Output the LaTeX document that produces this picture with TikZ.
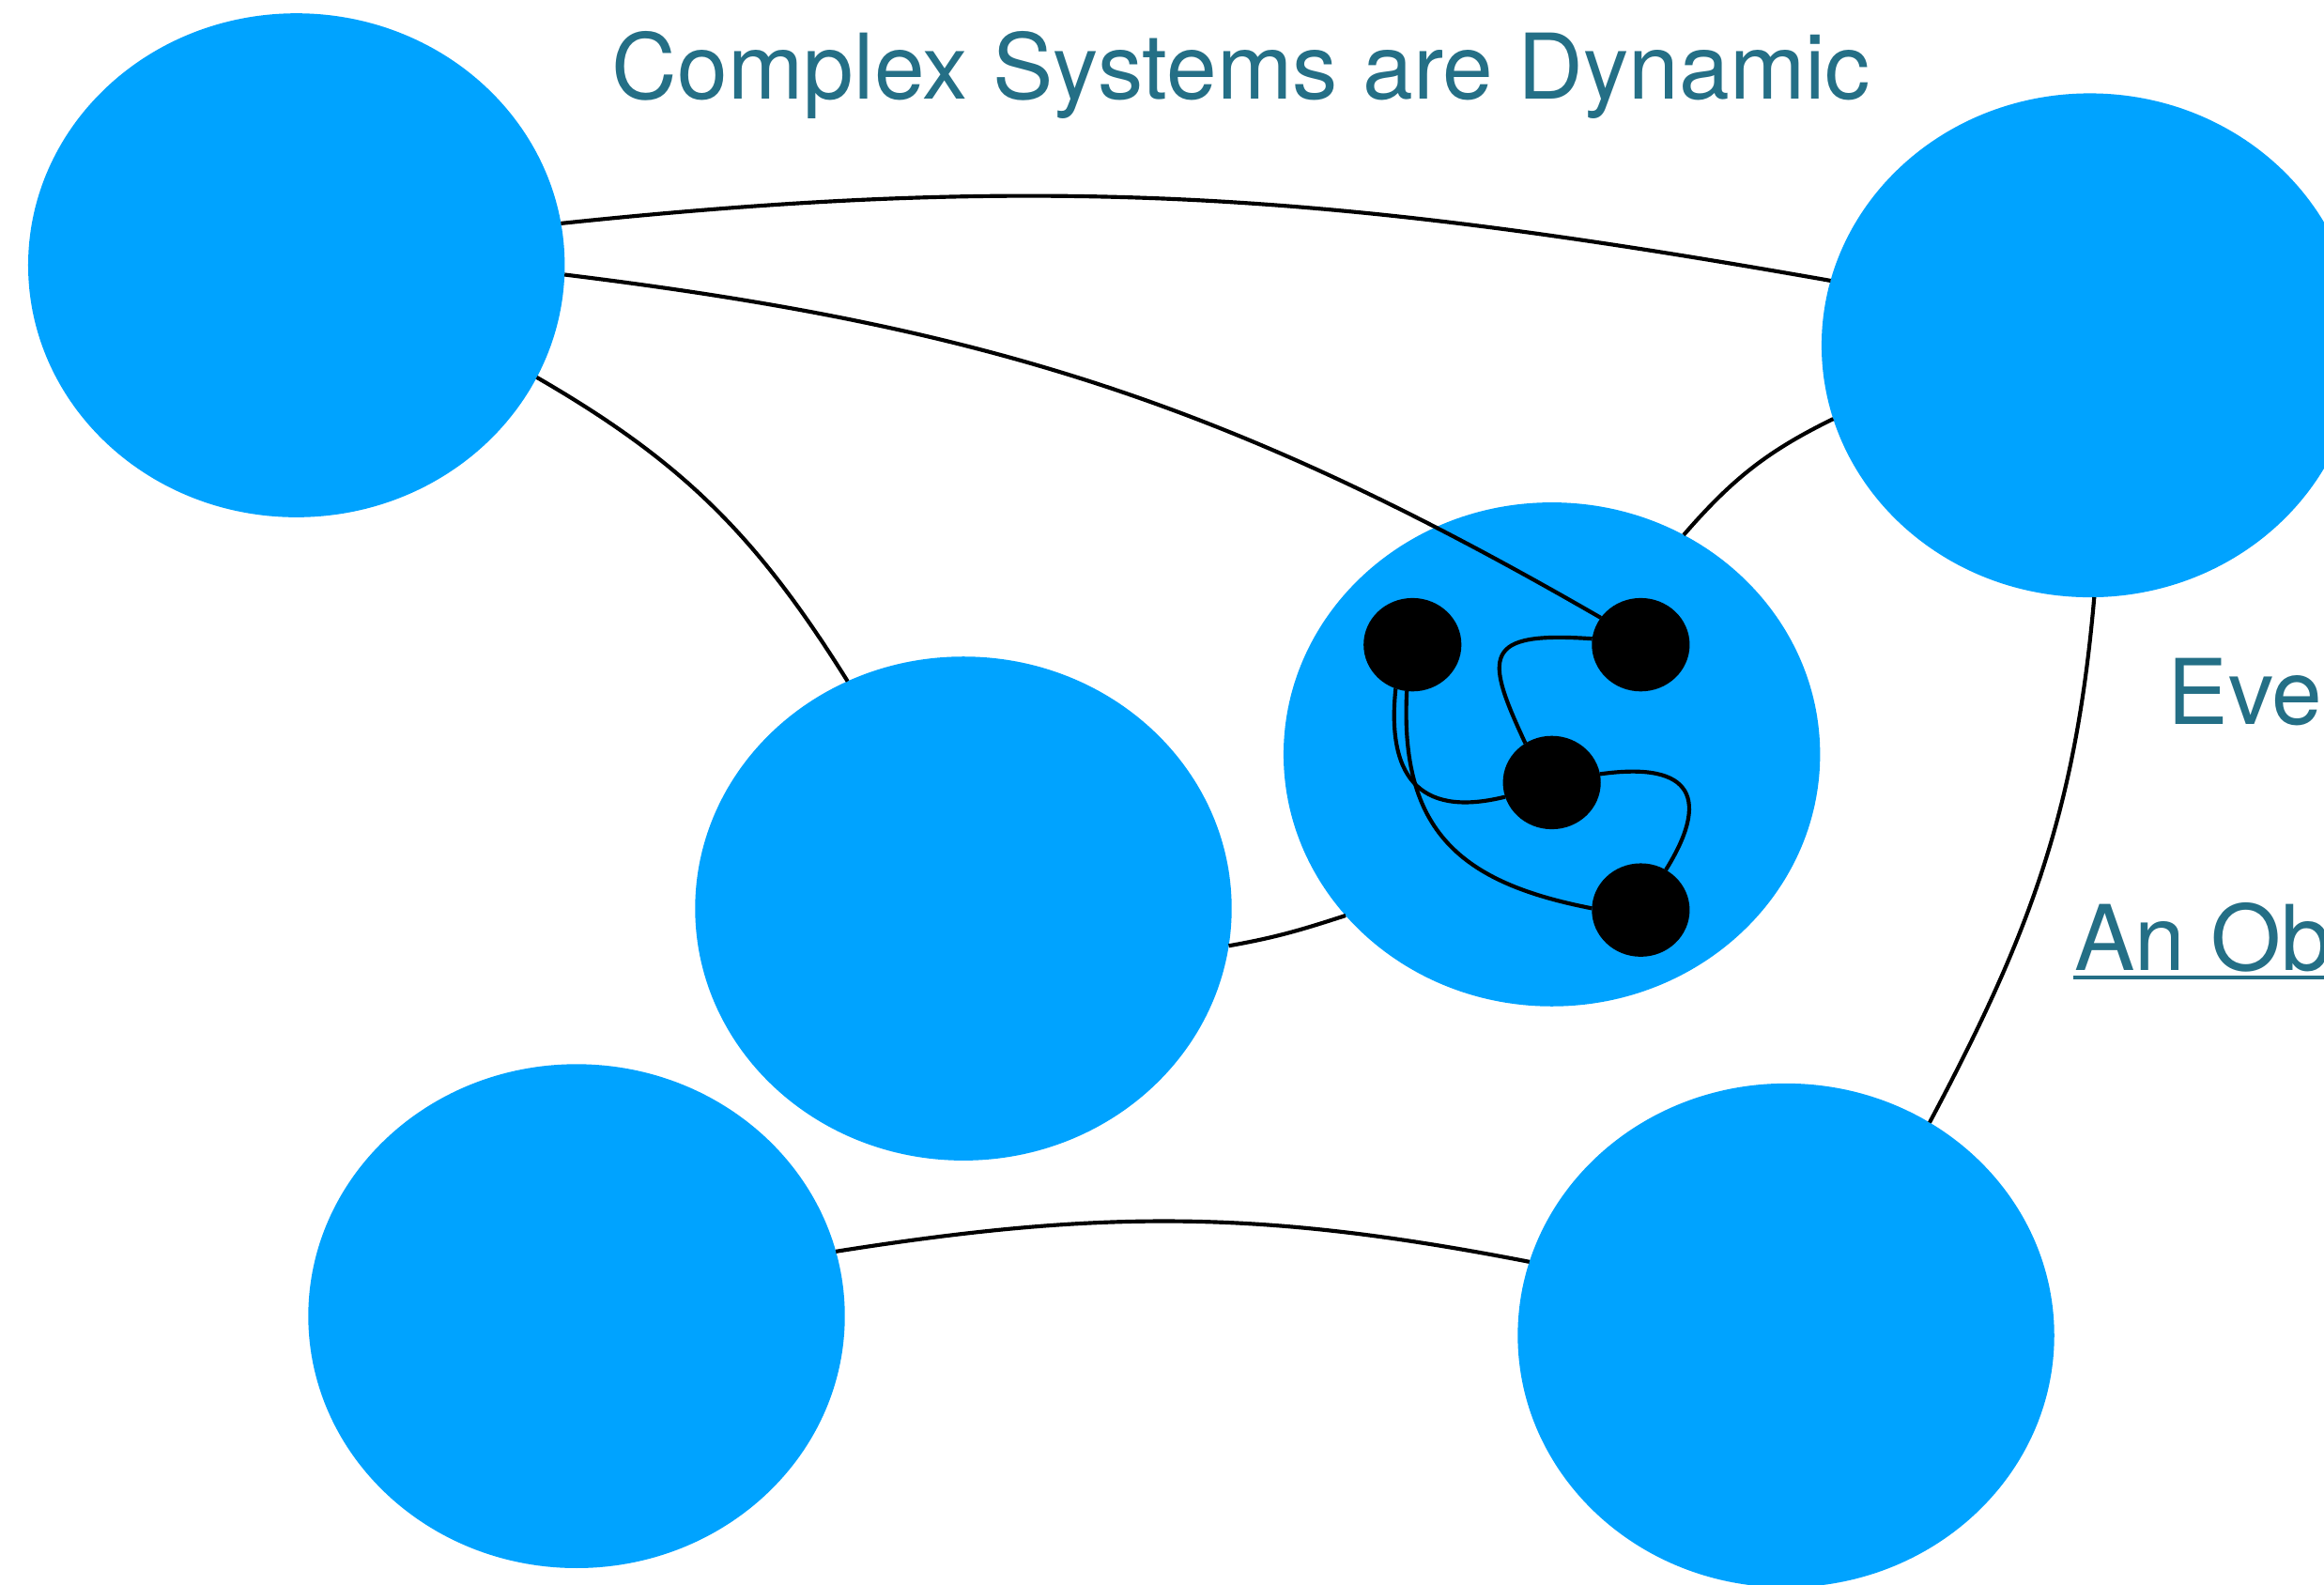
\documentclass[tikz,border=0pt]{standalone}
\usepackage{fontspec}
\setmainfont{TeX Gyre Heros}
\usetikzlibrary{shapes.geometric}
\definecolor{bubble}{RGB}{0,163,255}
\definecolor{caption}{RGB}{36,111,134}

\begin{document}
\begin{tikzpicture}[
  big/.style={ellipse, fill=bubble, minimum width=3.62cm, minimum height=3.40cm, inner sep=0pt, outer sep=0pt},
  dot/.style={ellipse, fill=black, minimum width=0.66cm, minimum height=0.63cm, inner sep=0pt, outer sep=0pt},
  link/.style={line width=0.75pt},
  words/.style={text=caption, font=\fontsize{17.4}{20}\selectfont, inner sep=0pt}
]
\useasboundingbox (0,0) rectangle (15.68,-10.69);
\clip (0,0) rectangle (15.68,-10.69);
% subsystems
\node[big] (nw) at (2.00,-1.79) {};
\node[big] (ne) at (14.10,-2.33) {};
\node[big] (mid) at (6.50,-6.13) {};
\node[big] (core) at (10.47,-5.09) {};
\node[big] (sw) at (3.89,-8.88) {};
\node[big] (se) at (12.05,-9.01) {};
% parts inside the core
\node[dot] (c1) at (9.53,-4.35) {};
\node[dot] (c2) at (11.07,-4.35) {};
\node[dot] (c3) at (10.47,-5.28) {};
\node[dot] (c4) at (11.07,-6.14) {};

% links between subsystems
\draw[link] (nw.9) to[out=6, in=170] (ne.166);
\draw[link] (nw.-2) to[out=-7, in=150] (c2.146);
\draw[link] (nw.-25) to[out=-30, in=122] (mid.117);
\draw[link] (mid.-8) to[out=10, in=198] (core.218);
\draw[link] (core.59) to[out=49, in=206] (ne.196);
\draw[link] (ne.-89) to[out=-95, in=62] (se.56);
\draw[link] (sw.14) to[out=9, in=169] (se.164);
% links inside the core
\draw[link] (c2.173) .. controls +(176:0.75) and +(115:0.65) .. (c3.124);
\draw[link] (c1.249) .. controls +(264:0.65) and +(194:0.55) .. (c3.197);
\draw[link] (c1.263) .. controls +(267:0.95) and +(169:0.9) .. (c4.178);
\draw[link] (c3.10) .. controls +(8:0.65) and +(58:0.55) .. (c4.58);

% captions
\node[words, anchor=base] (title) at (8.375,-0.67) {Complex Systems are Dynamic};
\node[words, anchor=base west] (every) at (14.62,-4.89) {Eve};
\node[words, anchor=base west] (object) at (13.99,-6.546) {An Ob};
\draw[caption, line width=0.7pt] (object.south west) ++(0,-0.03) -- ++(1.8,0);
\end{tikzpicture}
\end{document}
